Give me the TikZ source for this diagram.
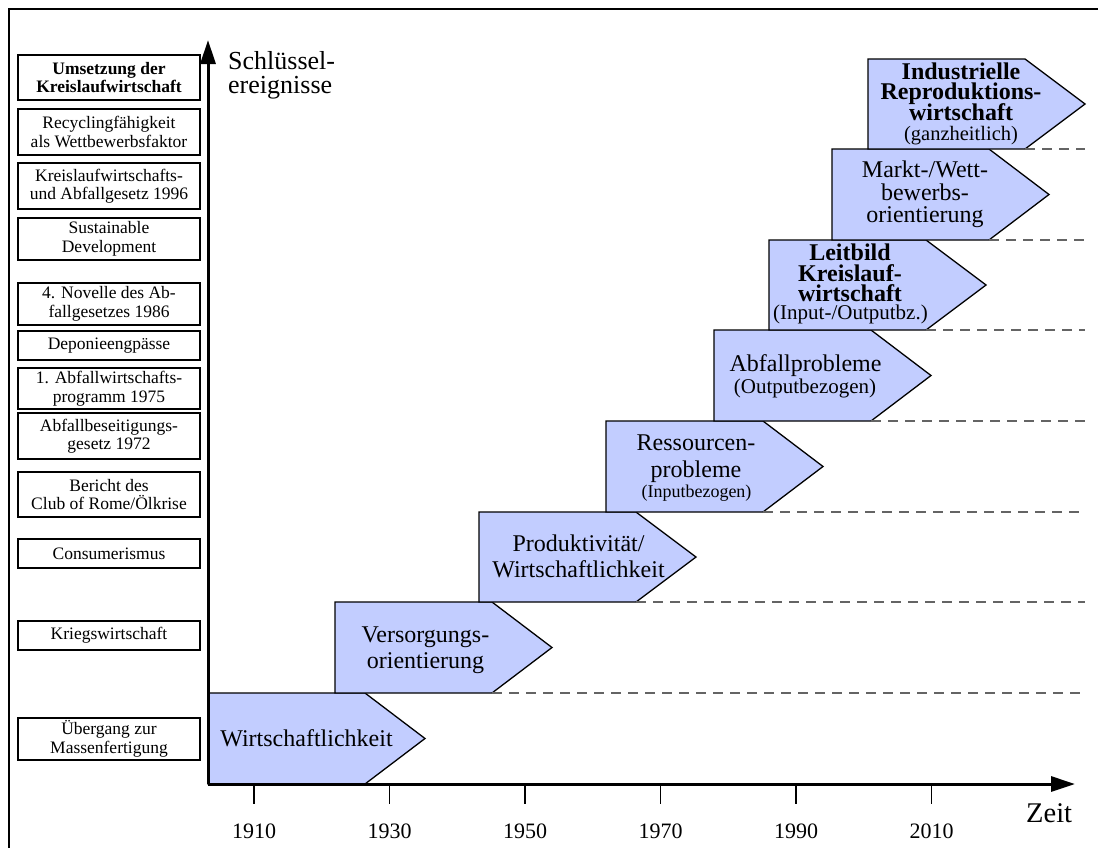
\documentclass[tikz,border=0pt]{standalone}
\usepackage{fontspec}
\setmainfont{Liberation Serif}
\usetikzlibrary{arrows.meta}
\definecolor{arrowfill}{RGB}{194,205,255}
\definecolor{dashgray}{RGB}{100,100,100}
% #1 name, #2 left, #3 top, #4 bottom
\newcommand\phasearrow[4]{%
  \draw[phase] (#2,#3) -- ++(157,0) -- ({#2+217},{(#3+#4)/2}) -- ({#2+157},#4) -- (#2,#4) -- cycle;
  \coordinate (#1c) at ({#2+157},#4);}
\begin{document}
\begin{tikzpicture}[x=1pt,y=-1pt,
  evbox/.style={draw=black, line width=1.5pt, minimum width=182pt, inner sep=0pt, align=center,
    font=\fontsize{17.5}{18.5}\selectfont},
  phase/.style={draw=black, line width=1.3pt, fill=arrowfill, line join=miter},
  ptext/.style={anchor=base, inner sep=0pt, font=\fontsize{24}{26}\selectfont},
  pbold/.style={anchor=base, inner sep=0pt, font=\fontsize{24}{26}\selectfont\bfseries},
  psmall/.style={anchor=base, inner sep=0pt, font=\fontsize{20.5}{22}\selectfont},
  guide/.style={draw=dashgray, line width=1.3pt, dash pattern=on 10pt off 7pt},
  axisline/.style={line width=3pt, -{Triangle[length=24pt,width=15pt]}},
  tickline/.style={line width=1.5pt},
  yearlbl/.style={anchor=base, inner sep=0pt, font=\fontsize{22}{24}\selectfont},
  biglbl/.style={anchor=base west, inner sep=0pt, font=\fontsize{26}{24}\selectfont},
]
\useasboundingbox (0,0) rectangle (1098,847);
\fill[white] (0,0) rectangle (1098,847);
% frame
\draw[line width=2.5pt] (9,860) -- (9,9) -- (1110,9);

% phase arrows
\phasearrow{p1}{208}{693}{784}
\phasearrow{p2}{335}{602}{693}
\phasearrow{p3}{479}{512}{602}
\phasearrow{p4}{606}{421}{512}
\phasearrow{p5}{714}{330}{421}
\phasearrow{p6}{769}{240}{330}
\phasearrow{p7}{832}{149}{240}
\phasearrow{p8}{868}{59}{149}

% dashed guides
\foreach \n/\yy in {p2/693,p3/602,p4/512,p5/421,p6/330,p7/240,p8/149}{
  \coordinate (\n e) at (1085,\yy);
  \draw[guide] (\n c) -- (\n e);
}

% axes
\coordinate (origin) at (208,784);
\coordinate (ytip) at (208,40);
\coordinate (xtip) at (1075,784);
\draw[axisline] (origin) -- (ytip);
\draw[axisline] (origin) -- (xtip);

% ticks and years
\foreach \yr/\xx in {1910/254,1930/389.5,1950/525,1970/660.5,1990/796,2010/931.5}{
  \coordinate (tk\yr) at (\xx,784);
  \coordinate (tb\yr) at (\xx,804);
  \draw[tickline] (tk\yr) -- (tb\yr);
  \node[yearlbl] (yr\yr) at (\xx,838) {\yr};
}

\node[biglbl] (ylab1) at (228,69) {Schlüssel-};
\node[biglbl] (ylab2) at (228,93) {ereignisse};
\node[biglbl, font=\fontsize{28.5}{30}\selectfont] (xlab) at (1026,822) {Zeit};

% phase texts
\node[ptext] (t1a) at (306.5,746) {Wirtschaftlichkeit};

\node[ptext] (t2a) at (425.5,642) {Versorgungs-};
\node[ptext] (t2b) at (425.5,668) {orientierung};

\node[ptext] (t3a) at (578.5,551) {Produktivität/};
\node[ptext] (t3b) at (578.5,577) {Wirtschaftlichkeit};

\node[ptext] (t4a) at (696,450) {Ressourcen-};
\node[ptext] (t4b) at (696,477) {probleme};
\node[psmall, font=\fontsize{18}{20}\selectfont] (t4c) at (696.5,497) {(Inputbezogen)};

\node[ptext] (t5a) at (805.5,371) {Abfallprobleme};
\node[psmall, font=\fontsize{21}{22}\selectfont] (t5b) at (805,393) {(Outputbezogen)};

\node[pbold] (t6a) at (850,260) {Leitbild};
\node[pbold] (t6b) at (850,281.5) {Kreislauf-};
\node[pbold] (t6c) at (850,301) {wirtschaft};
\node[psmall, font=\fontsize{21}{22}\selectfont] (t6d) at (850.5,319) {(Input-/Outputbz.)};

\node[ptext] (t7a) at (925,177) {Markt-/Wett-};
\node[ptext] (t7b) at (925,200) {bewerbs-};
\node[ptext] (t7c) at (925,222.5) {orientierung};

\node[pbold] (t8a) at (961,79) {Industrielle};
\node[pbold] (t8b) at (961,99) {Reproduktions-};
\node[pbold] (t8c) at (961,120) {wirtschaft};
\node[psmall] (t8d) at (961,140.5) {(ganzheitlich)};

% event boxes
\node[evbox, minimum height=45pt, font=\fontsize{17.5}{18.5}\selectfont\bfseries] (e1) at (109,77.5) {Umsetzung der\\Kreislaufwirtschaft};
\node[evbox, minimum height=46pt] (e2) at (109,132) {Recyclingfähigkeit\\als Wettbewerbsfaktor};
\node[evbox, minimum height=46pt] (e3) at (109,186) {Kreislaufwirtschafts-\\und Abfallgesetz 1996};
\node[evbox, minimum height=42pt] (e4) at (109,239) {Sustainable\\Development};
\node[evbox, minimum height=42pt] (e5) at (109,304) {4. Novelle des Ab-\\fallgesetzes 1986};
\node[evbox, minimum height=29pt] (e6) at (109,345.5) {Deponieengpässe};
\node[evbox, minimum height=41pt] (e7) at (109,388.5) {1. Abfallwirtschafts-\\programm 1975};
\node[evbox, minimum height=46pt] (e8) at (109,436) {Abfallbeseitigungs-\\gesetz 1972};
\node[evbox, minimum height=45pt] (e9) at (109,494.5) {Bericht des\\Club of Rome/Ölkrise};
\node[evbox, minimum height=29pt] (e10) at (109,553.5) {Consumerismus};
\node[evbox, minimum height=29pt] (e11) at (109,635.5) {Kriegswirtschaft};
\node[evbox, minimum height=42pt] (e12) at (109,739) {Übergang zur\\Massenfertigung};
\end{tikzpicture}
\end{document}
